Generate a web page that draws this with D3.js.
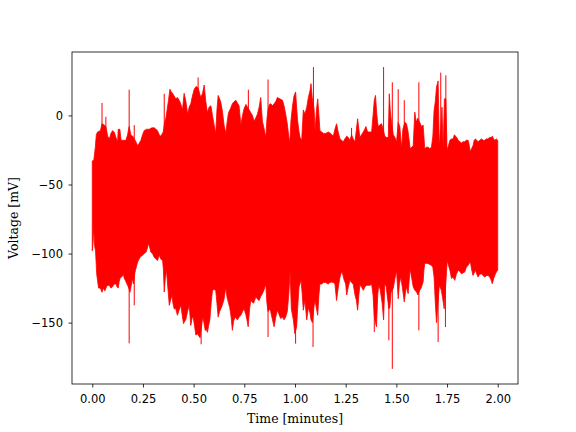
<!DOCTYPE html>
<html>
<head>
<meta charset="utf-8">
<script src="https://cdn.jsdelivr.net/npm/d3@7"></script>
<style>
    body { margin: 0; background: #fff; }
    .axis text { font-family: "DejaVu Sans", sans-serif; font-size: 11.5px; fill: #000; }
    .axis line, .axis path { stroke: #000; stroke-width: 0.8; }
    .axis-label { font-family: "DejaVu Serif", serif; font-size: 12.5px; fill: #000; }
</style>
</head>
<body>
<div id="chart-area"></div>
<script>

// Upper edge of the recorded voltage trace [minutes, mV]
var upperEnvelope = [
    [0.000,-33],[0.008,-32],[0.015,-23],[0.020,-14],[0.026,-12],[0.040,-11],[0.048,-6],[0.059,-7],[0.067,-8],[0.076,-15],
    [0.084,-17],[0.092,-13],[0.100,-11],[0.108,-12],[0.117,-16],[0.125,-19],[0.128,-10],[0.136,-10],[0.142,-18],[0.150,-18],
    [0.166,-18],[0.174,-14],[0.182,-8],[0.191,-14.5],[0.200,-15],[0.215,-19],[0.224,-22],[0.232,-20],[0.240,-18],[0.248,-14],
    [0.256,-11],[0.268,-10],[0.281,-10],[0.294,-9],[0.306,-9],[0.314,-10],[0.322,-11],[0.330,-14],[0.338,-15],[0.350,-12],
    [0.357,-5],[0.363,-2],[0.370,5],[0.376,11],[0.383,19],[0.390,17],[0.396,16],[0.404,14],[0.412,12],[0.420,13],
    [0.429,11],[0.437,8],[0.445,4],[0.453,16],[0.462,10],[0.470,1],[0.478,6],[0.486,8.5],[0.494,14],[0.503,19],
    [0.512,21],[0.522,20],[0.535,13],[0.544,16],[0.552,22],[0.560,10],[0.568,2],[0.576,6],[0.585,7],[0.593,0],
    [0.601,-7],[0.609,-13],[0.615,4],[0.621,14.5],[0.628,12],[0.634,9.6],[0.642,3],[0.650,-7],[0.659,-13],[0.665,-5],
    [0.672,2],[0.682,5],[0.691,8.5],[0.700,10],[0.708,11],[0.716,9],[0.724,7],[0.733,-7],[0.741,0],[0.749,5],
    [0.758,8],[0.766,6],[0.774,4],[0.782,2],[0.790,0],[0.798,-4],[0.806,-2],[0.815,1],[0.823,6],[0.831,13],
    [0.839,-4],[0.848,-10],[0.856,-16],[0.862,-2],[0.868,5],[0.874,8],[0.880,8.5],[0.889,7],[0.897,8.5],[0.905,10],
    [0.913,13],[0.925,12],[0.938,11],[0.946,7],[0.954,1],[0.962,-6],[0.970,-16],[0.974,-20],[0.980,-4],[0.987,6],
    [0.995,14],[1.003,17],[1.008,6],[1.013,-4],[1.020,-12],[1.025,-16],[1.033,-18],[1.041,4],[1.049,1],[1.058,6],
    [1.066,13],[1.074,18],[1.079,23],[1.085,13],[1.094,5],[1.099,-11],[1.106,4],[1.112,12],[1.118,0],[1.123,-11],
    [1.132,-12],[1.140,-13],[1.152,-13],[1.164,-12],[1.176,-13],[1.189,-15],[1.197,-10],[1.205,-6],[1.213,-12],[1.222,-17],
    [1.230,-18],[1.238,-19],[1.246,-17],[1.255,-15],[1.263,-16],[1.271,-18],[1.279,-14],[1.287,-17],[1.296,-19],[1.303,-10],
    [1.309,-2.4],[1.315,-10],[1.320,-16],[1.328,-14],[1.337,-12],[1.344,-10],[1.350,-8],[1.358,-12],[1.366,-12],[1.378,-12],
    [1.385,0],[1.391,11],[1.397,14.5],[1.404,0],[1.410,-8],[1.418,-7],[1.427,-6],[1.435,-10],[1.443,-15],[1.452,-16],
    [1.460,-16],[1.465,15.7],[1.470,3.6],[1.476,-5],[1.485,-14],[1.493,-16],[1.501,-19],[1.509,-5],[1.517,-8],[1.526,-24],
    [1.532,-10],[1.542,-5],[1.550,-6],[1.558,-12],[1.568,-24],[1.576,-23],[1.583,-22],[1.591,2.4],[1.598,-5],[1.605,-2],
    [1.615,-5],[1.624,-8],[1.632,-7],[1.640,-24],[1.648,-23],[1.657,-23],[1.665,-24],[1.673,-23],[1.680,-15],[1.686,3.6],
    [1.692,10],[1.698,20.5],[1.706,25],[1.712,-22],[1.719,-10],[1.725,6],[1.731,-24],[1.737,12],[1.744,12],[1.750,-25],
    [1.757,-22],[1.764,-18],[1.772,-17],[1.780,-17],[1.786,-14],[1.792,-15],[1.798,-16],[1.805,-18],[1.813,-19],[1.821,-20],
    [1.829,-19],[1.837,-19],[1.845,-18],[1.854,-18],[1.860,-22],[1.865,-26.5],[1.871,-24],[1.878,-22],[1.884,-18],[1.890,-17],
    [1.897,-18],[1.903,-19],[1.911,-18],[1.920,-17],[1.928,-18],[1.936,-18],[1.944,-17],[1.952,-17],[1.960,-16],[1.967,-16],
    [1.973,-15],[1.980,-17],[1.986,-18],[1.993,-17],[2.000,-18]
];

// Lower edge of the trace [minutes, mV]
var lowerEnvelope = [
    [0.000,-98],[0.004,-92],[0.007,-81],[0.012,-95],[0.016,-98],[0.022,-115],[0.031,-125],[0.040,-125],[0.048,-128],[0.055,-125],
    [0.062,-127],[0.070,-124],[0.077,-123],[0.084,-123],[0.092,-125],[0.100,-124],[0.108,-122],[0.117,-122],[0.122,-124],[0.128,-125],
    [0.133,-120],[0.138,-117.5],[0.145,-117],[0.153,-115],[0.158,-118],[0.163,-119.4],[0.168,-121],[0.174,-123],[0.180,-125],[0.186,-128],
    [0.191,-124],[0.198,-118],[0.203,-122],[0.210,-114],[0.215,-111],[0.224,-106],[0.232,-103.7],[0.240,-102],[0.248,-101.3],[0.256,-100],
    [0.265,-99],[0.272,-96],[0.278,-92.4],[0.284,-96],[0.289,-99],[0.297,-100],[0.305,-102.5],[0.314,-104],[0.322,-105],[0.330,-101],
    [0.338,-104],[0.347,-105],[0.351,-112],[0.355,-127.8],[0.360,-118],[0.366,-112],[0.373,-125],[0.380,-137.5],[0.386,-134],[0.393,-130],
    [0.398,-136],[0.404,-140],[0.412,-140],[0.420,-144.7],[0.428,-141],[0.437,-137.5],[0.444,-145],[0.450,-150.7],[0.456,-149],[0.461,-148],
    [0.470,-142],[0.478,-137.5],[0.486,-152],[0.492,-147],[0.498,-146],[0.505,-153],[0.511,-159],[0.520,-158],[0.527,-160],[0.532,-161],
    [0.545,-146],[0.551,-150],[0.557,-155.6],[0.563,-155],[0.568,-157],[0.574,-152],[0.580,-148],[0.587,-135],[0.593,-126.6],[0.601,-126],
    [0.609,-126.6],[0.615,-136],[0.621,-146],[0.628,-142],[0.634,-140],[0.642,-137],[0.650,-133],[0.659,-124],[0.664,-131],[0.672,-136],
    [0.678,-139],[0.685,-146],[0.691,-155.6],[0.697,-149],[0.704,-146],[0.710,-147],[0.716,-148],[0.724,-146],[0.733,-144.7],[0.741,-142],
    [0.749,-140],[0.757,-144],[0.763,-148],[0.769,-153],[0.776,-140],[0.782,-134],[0.789,-135],[0.795,-136],[0.801,-134],[0.807,-131],
    [0.815,-133],[0.823,-134],[0.831,-131],[0.839,-129],[0.848,-126],[0.856,-122],[0.861,-135],[0.867,-142],[0.874,-140],[0.880,-142],
    [0.889,-148],[0.897,-153],[0.905,-146],[0.913,-141],[0.921,-144],[0.929,-147],[0.938,-146],[0.946,-148],[0.954,-146],[0.962,-142],
    [0.969,-130],[0.976,-113],[0.982,-140],[0.988,-145],[0.992,-148],[0.999,-158],[1.008,-153],[1.015,-135],[1.020,-124],[1.030,-119.4],
    [1.036,-130],[1.041,-141],[1.049,-134],[1.058,-148],[1.066,-139],[1.074,-143],[1.079,-148],[1.086,-150],[1.094,-138],[1.099,-134],
    [1.106,-140],[1.112,-144.7],[1.118,-130],[1.123,-122],[1.132,-122],[1.140,-121],[1.152,-121],[1.164,-122],[1.172,-121],[1.181,-120.6],
    [1.189,-121],[1.197,-122],[1.205,-134],[1.213,-125],[1.222,-117],[1.228,-114],[1.233,-113.4],[1.242,-119],[1.250,-122],[1.255,-130],
    [1.263,-124],[1.271,-119.4],[1.279,-121],[1.287,-122],[1.296,-130],[1.303,-134],[1.309,-141],[1.315,-130],[1.320,-123],[1.328,-124],
    [1.337,-126.6],[1.345,-124],[1.353,-123],[1.362,-123],[1.370,-123],[1.378,-122],[1.385,-130],[1.391,-145],[1.397,-150],[1.402,-153],
    [1.408,-130],[1.413,-123],[1.420,-126],[1.424,-130],[1.430,-136],[1.437,-148],[1.443,-122],[1.450,-124],[1.457,-133],[1.463,-140],
    [1.468,-139],[1.474,-128],[1.485,-125],[1.493,-118],[1.501,-112],[1.509,-132.7],[1.515,-122],[1.522,-117],[1.530,-125],[1.539,-135],
    [1.545,-128],[1.550,-124],[1.558,-129],[1.563,-120],[1.568,-111],[1.576,-118],[1.583,-124],[1.591,-126.6],[1.600,-127.8],[1.606,-130],
    [1.615,-126.6],[1.622,-125],[1.632,-120.6],[1.636,-112],[1.640,-107.3],[1.648,-107],[1.657,-107.3],[1.665,-108],[1.673,-108.5],[1.680,-110],
    [1.686,-117],[1.692,-135],[1.698,-150],[1.712,-123],[1.722,-126.6],[1.730,-134],[1.736,-140],[1.748,-112],[1.751,-105],[1.758,-109],
    [1.764,-112],[1.772,-118],[1.780,-117],[1.788,-119.4],[1.796,-115],[1.805,-112],[1.813,-113],[1.821,-114.6],[1.829,-114],[1.837,-113.4],
    [1.845,-110],[1.854,-108.5],[1.860,-107],[1.865,-106],[1.872,-112],[1.878,-115.8],[1.884,-114],[1.890,-112],[1.897,-115],[1.903,-117],
    [1.911,-115],[1.920,-114.6],[1.928,-116],[1.936,-117],[1.944,-116],[1.952,-115.8],[1.960,-117],[1.967,-119],[1.973,-121.8],[1.980,-118],
    [1.989,-114.6],[1.995,-113],[2.000,-112]
];

// Single sharp spikes sticking out of the envelope [minutes, mV]
var upperSpikes = [
    [0.048,9],[0.067,-1],[0.182,18.6],[0.207,-7],[0.355,15.7],[0.522,27.5],[0.770,18.6],[0.867,26],
    [1.091,35],[1.279,-9],[1.437,35],[1.480,24],[1.509,19],[1.539,11],[1.611,24],[1.719,31],[1.744,29]
];
var lowerSpikes = [
    [0.182,-165],[0.207,-137.5],[0.537,-165.7],[0.867,-160.4],[1.003,-165.2],[1.089,-167.6],[1.391,-156.8],
    [1.463,-162.8],[1.480,-183.5],[1.611,-155.6],[1.706,-164],[1.742,-153.2]
];

var xTicks = [0, 0.25, 0.5, 0.75, 1.0, 1.25, 1.5, 1.75, 2.0];
var yTicks = [0, -50, -100, -150];


var margin = { top: 52, right: 58, bottom: 48, left: 72 };
var width = 576 - margin.left - margin.right,
    height = 432 - margin.top - margin.bottom;

var svg = d3.select("#chart-area").append("svg")
    .attr("width", 576)
    .attr("height", 432)
    .append("g")
    .attr("transform", "translate(" + margin.left + "," + margin.top + ")");

// Scales with matplotlib-like 5% padding around the data
var allValues = upperEnvelope.concat(lowerEnvelope, upperSpikes, lowerSpikes);
var tExtent = d3.extent(allValues, function(d) { return d[0]; });
var vExtent = d3.extent(allValues, function(d) { return d[1]; });
var tPad = (tExtent[1] - tExtent[0]) * 0.05,
    vPad = (vExtent[1] - vExtent[0]) * 0.05;

var x = d3.scaleLinear()
    .domain([tExtent[0] - tPad, tExtent[1] + tPad])
    .range([0, width]);

var y = d3.scaleLinear()
    .domain([vExtent[0] - vPad, vExtent[1] + vPad])
    .range([height, 0]);

// Trace body: upper edge left to right, lower edge back
var outline = upperEnvelope.concat(lowerEnvelope.slice().reverse());

var line = d3.line()
    .x(function(d) { return x(d[0]); })
    .y(function(d) { return y(d[1]); });

svg.append("path")
    .datum(outline)
    .attr("d", function(d) { return line(d) + "Z"; })
    .attr("fill", "#ff0000")
    .attr("stroke", "#ff0000")
    .attr("stroke-width", 0.8)
    .attr("stroke-linejoin", "miter");

svg.selectAll(".spike-up")
    .data(upperSpikes)
    .enter().append("line")
    .attr("class", "spike-up")
    .attr("x1", function(d) { return x(d[0]); })
    .attr("x2", function(d) { return x(d[0]); })
    .attr("y1", y(-50))
    .attr("y2", function(d) { return y(d[1]); })
    .attr("stroke", "#ff0000")
    .attr("stroke-width", 1);

svg.selectAll(".spike-down")
    .data(lowerSpikes)
    .enter().append("line")
    .attr("class", "spike-down")
    .attr("x1", function(d) { return x(d[0]); })
    .attr("x2", function(d) { return x(d[0]); })
    .attr("y1", y(-80))
    .attr("y2", function(d) { return y(d[1]); })
    .attr("stroke", "#ff0000")
    .attr("stroke-width", 1);

// Axes
var xAxis = d3.axisBottom(x)
    .tickValues(xTicks)
    .tickSize(3.5)
    .tickPadding(7)
    .tickFormat(d3.format(".2f"));

var yAxis = d3.axisLeft(y)
    .tickValues(yTicks)
    .tickSize(3.5)
    .tickPadding(5.5)
    .tickFormat(d3.format("d"));

svg.append("g")
    .attr("class", "x-axis axis")
    .attr("transform", "translate(0," + height + ")")
    .call(xAxis)
    .select(".domain").remove();

svg.append("g")
    .attr("class", "y-axis axis")
    .call(yAxis)
    .select(".domain").remove();

// Frame
svg.append("rect")
    .attr("width", width)
    .attr("height", height)
    .attr("fill", "none")
    .attr("stroke", "#000")
    .attr("stroke-width", 0.8);

// Axis labels
svg.append("text")
    .attr("class", "axis-label")
    .attr("x", width / 2)
    .attr("y", height + 38.5)
    .style("text-anchor", "middle")
    .text("Time [minutes]");

svg.append("text")
    .attr("class", "axis-label")
    .attr("transform", "rotate(-90)")
    .attr("x", -height / 2)
    .attr("y", -54)
    .style("text-anchor", "middle")
    .text("Voltage [mV]");

</script>
</body>
</html>
